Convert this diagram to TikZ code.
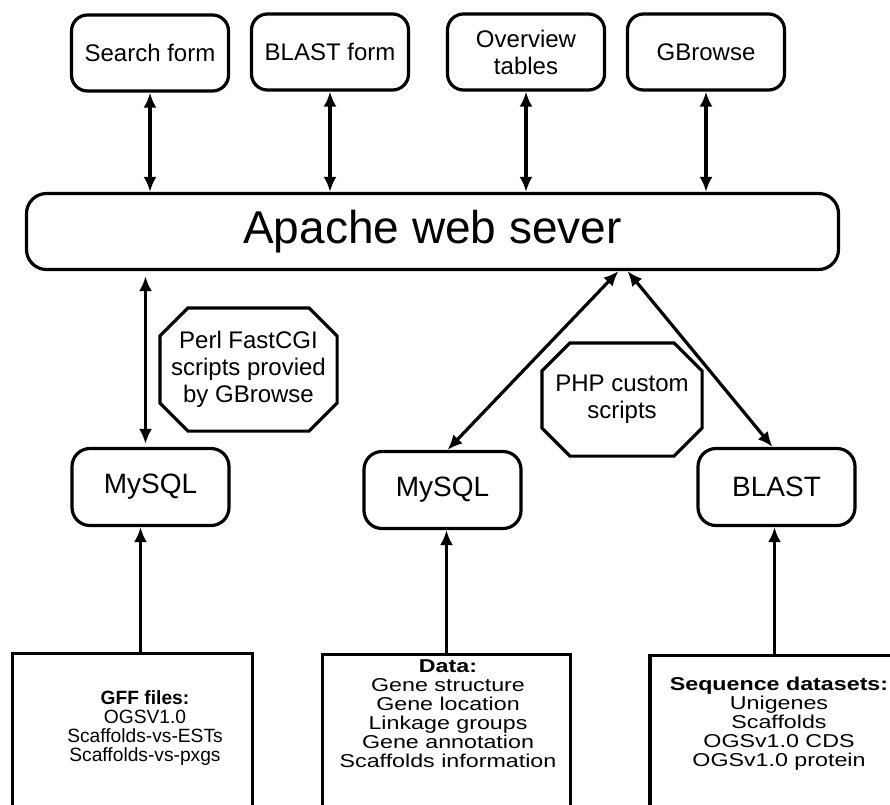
\documentclass[tikz,border=0pt]{standalone}
\usepackage{fontspec}
\setmainfont{Liberation Sans}
\newfontfamily\storefont[FakeStretch=1.25]{Liberation Sans}
\usetikzlibrary{arrows.meta}

\begin{document}
\begin{tikzpicture}[x=1pt,y=-1pt,>={Latex[length=15pt,width=13pt]},
                    line width=3.2pt,
                    page/.style={draw,rounded corners=16pt,minimum width=157pt,
                      minimum height=76pt,align=center,inner sep=0pt,
                      font=\fontsize{24}{27}\selectfont},
                    server/.style={draw,rounded corners=20pt,minimum width=812pt,
                      minimum height=76pt,inner sep=0pt,font=\fontsize{46}{50}\selectfont},
                    script/.style={align=center,inner sep=0pt,
                      font=\fontsize{24}{27}\selectfont},
                    engine/.style={draw,rounded corners=18pt,minimum width=157pt,
                      minimum height=77pt,inner sep=0pt,font=\fontsize{28}{30}\selectfont},
                    store/.style={draw,anchor=north,minimum height=170pt,inner sep=0pt},
                    storetext/.style={align=center,inner sep=0pt,
                      font=\storefont\fontsize{18.6}{19}\selectfont}]

  \useasboundingbox (0,0) rectangle (890,804);
  \clip (0,0) rectangle (890,804);

  % user side
  \node[page] (search)    at (150,53) {Search form};
  \node[page] (blastform) at (330,52) {BLAST form};
  \node[page] (overview)  at (526,52) {Overview\\tables};
  \node[page] (gbrowse)   at (706,52) {GBrowse};

  \node[server] (apache) at (432.5,231.5) {Apache web sever};

  % scripts (octagons drawn round the text nodes)
  \node[script,minimum width=174pt,minimum height=120pt] (perl) at (248.5,369.5)
       {Perl FastCGI\\scripts provied\\by GBrowse};
  \node[script,minimum width=157pt,minimum height=110pt] (php) at (622,399.5)
       {PHP custom\\scripts};
  \foreach \n in {perl,php}
    \draw ([xshift=28pt]\n.north west) -- ([xshift=-28pt]\n.north east)
       -- ([yshift=-28pt]\n.north east) -- ([yshift=28pt]\n.south east)
       -- ([xshift=-28pt]\n.south east) -- ([xshift=28pt]\n.south west)
       -- ([yshift=28pt]\n.south west) -- ([yshift=-28pt]\n.north west) -- cycle;

  % back ends
  \node[engine] (mysqlA) at (150.5,487) {MySQL};
  \node[engine] (mysqlB) at (442.5,490) {MySQL};
  \node[engine] (blast)  at (776.5,487) {BLAST};

  % data sources
  \node[store,minimum width=240pt] (gff)  at (132.5,652) {};
  \node[store,minimum width=248pt] (data) at (446.5,653) {};
  \node[store,minimum width=270pt] (seqs) at (785,654)   {};

  \node[storetext,font=\fontsize{19.2}{18.7}\selectfont] (gfftext) at (145,728)
       {\textbf{GFF files:}\\OGSV1.0\\Scaffolds-vs-ESTs\\Scaffolds-vs-pxgs};
  \node[storetext] (datatext) at (448,714)
       {\textbf{Data:}\\Gene structure\\Gene location\\Linkage groups\\Gene annotation\\Scaffolds information};
  \node[storetext] (seqstext) at (779,723.5)
       {\textbf{Sequence datasets:}\\Unigenes\\Scaffolds\\OGSv1.0 CDS\\OGSv1.0 protein};

  % connections
  \foreach \top in {search,blastform,overview,gbrowse}
    \draw[<->] (\top.south) -- (\top.south |- apache.north);

  \draw[<->,shorten <=5pt,shorten >=3pt] ([xshift=-5pt]mysqlA.north |- apache.south)
       -- ([xshift=-5pt]mysqlA.north);
  \draw[<->] ([xshift=186pt]apache.south) -- ([xshift=5pt]mysqlB.north);
  \draw[<->] ([xshift=195pt]apache.south) -- ([xshift=-4pt]blast.north);

  \draw[->] ([xshift=-10pt]mysqlA.south |- gff.north) -- ([xshift=-10pt]mysqlA.south);
  \draw[->] ([xshift=4pt]mysqlB.south |- data.north) -- ([xshift=4pt]mysqlB.south);
  \draw[->] ([xshift=-2pt]blast.south |- seqs.north) -- ([xshift=-2pt]blast.south);
\end{tikzpicture}
\end{document}
